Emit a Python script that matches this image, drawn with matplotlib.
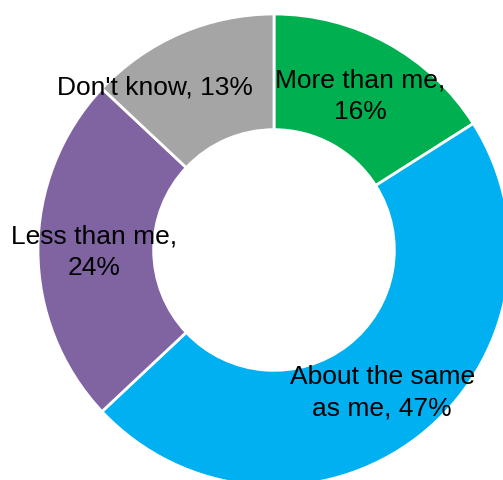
import matplotlib
matplotlib.use("Agg")
import matplotlib.pyplot as plt

categories = ["More than me", "About the same as me", "Less than me", "Don't know"]
values = [16, 47, 24, 13]
colors = ["#00B050", "#00B0F0", "#8064A2", "#A5A5A5"]
label_texts = ["More than me,\n16%", "About the same\nas me, 47%", "Less than me,\n24%", "Don't know, 13%"]
label_pos = [(0.364, 0.657), (0.458, -0.602), (-0.763, -0.004), (-0.506, 0.691)]

plt.rcParams["font.family"] = ["Liberation Sans", "DejaVu Sans"]

fig = plt.figure(figsize=(5.03, 4.81), dpi=100)
ax = fig.add_axes([0, 0, 1, 1])
ax.pie(values, colors=colors, startangle=90, counterclock=False, radius=1.0,
       wedgeprops=dict(width=0.49, edgecolor="white", linewidth=2.0))

for txt, (x, y) in zip(label_texts, label_pos):
    ax.text(x, y, txt, ha="center", va="center", fontsize=19, linespacing=1.38, color="black")

ax.set_xlim(-274 / 236, (503 - 274) / 236)
ax.set_ylim(-(481 - 251) / 236, 251 / 236)
ax.set_aspect("equal")
ax.axis("off")

fig.savefig("out.png", dpi=100)
